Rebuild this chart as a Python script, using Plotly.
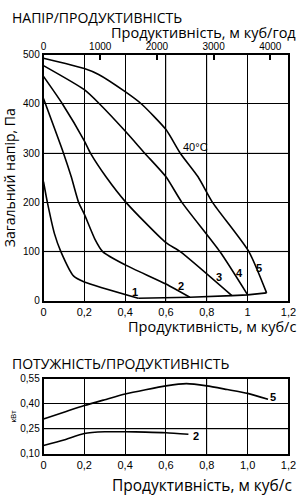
import plotly.graph_objects as go

W, H = 308, 500

# ---------------- data (pressure vs flow, m3/s -> Pa) ----------------
c1_q = [0, 0.019, 0.054, 0.085, 0.148, 0.2, 0.464]
c1_p = [242, 200, 136, 100, 50, 38, 5]
c2_q = [0, 0.098, 0.136, 0.172, 0.2, 0.251, 0.29, 0.4, 0.6, 0.717]
c2_p = [411, 300, 252, 200, 176, 126, 100, 73, 34, 7]
c3_q = [0, 0.093, 0.2, 0.23, 0.306, 0.404, 0.6, 0.67, 0.923]
c3_p = [456, 400, 325, 300, 252, 200, 118, 100, 10.5]
c4_q = [0, 0.2, 0.275, 0.4, 0.496, 0.6, 0.678, 0.864, 1.0]
c4_p = [478, 429, 400, 345, 300, 252, 200, 100, 12]
c5_q = [0, 0.2, 0.27, 0.4, 0.48, 0.6, 0.67, 0.757, 0.828, 1.006, 1.093]
c5_p = [493, 472, 460, 425, 400, 348, 300, 252, 200, 100, 16]
base_q = [0.464, 0.717, 0.923, 1.0, 1.093]
base_p = [5, 7, 10.5, 12, 16]

# power vs flow (m3/s -> kW)
p5_q = [0, 0.1, 0.2, 0.3, 0.4, 0.5, 0.6, 0.7, 0.8, 0.9, 1.0, 1.1]
p5_w = [0.31, 0.35, 0.39, 0.425, 0.459, 0.485, 0.508, 0.521, 0.508, 0.486, 0.463, 0.428]
p2_q = [0, 0.1, 0.2, 0.3, 0.4, 0.5, 0.6, 0.71]
p2_w = [0.151, 0.184, 0.223, 0.233, 0.233, 0.231, 0.227, 0.218]

# ticks
q_ticks = [0, 0.2, 0.4, 0.6, 0.8, 1.0, 1.2]
q_text_top = ["0", "0,2", "0,4", "0,6", "0,8", "1", "1,2"]
q_text_pow = ["0", "0,2", "0,4", "0,6", "0,8", "1,0", "1,2"]
p_ticks = [0, 100, 200, 300, 400, 500]
h_ticks = [0, 1000, 2000, 3000, 4000]
w_ticks = [0.10, 0.25, 0.40, 0.55]
w_text = ["0,10", "0,25", "0,40", "0,55"]

grey_q = [0.6, 0.8]
grey_p = [100, 300]
grey_qp = [0.8]
grey_w = [0.25]

# ---------------- layout geometry ----------------
def px_x(x):
    return x / W

def px_y(y):
    return 1 - y / H

xd = [px_x(42), px_x(296)]
top_d = [px_y(302), px_y(50)]
pow_d = [px_y(459), px_y(382)]

TICKF = dict(family="Liberation Sans, Arial, sans-serif", size=10, color="black")
BTICKF = dict(family="Liberation Sans, Arial, sans-serif", size=11, color="black")
TITLEF = dict(family="Open Sans, Noto Sans, sans-serif", size=14, color="black")
TITLEF2 = dict(family="Open Sans, Noto Sans, sans-serif", size=14.5, color="black")

fig = go.Figure()
for q, p in [(c1_q, c1_p), (c2_q, c2_p), (c3_q, c3_p), (c4_q, c4_p), (c5_q, c5_p)]:
    fig.add_trace(go.Scatter(x=q, y=p, mode="lines", line=dict(color="black", width=1.6, shape="spline", smoothing=0.6),
                             xaxis="x", yaxis="y", showlegend=False, hoverinfo="skip"))
fig.add_trace(go.Scatter(x=base_q, y=base_p, mode="lines", line=dict(color="black", width=1.6),
                         xaxis="x", yaxis="y", showlegend=False, hoverinfo="skip"))
# invisible trace to activate the top m3/h axis
fig.add_trace(go.Scatter(x=[0, 4320], y=[0, 0], mode="lines", line=dict(width=0), opacity=0,
                         xaxis="x3", yaxis="y", showlegend=False, hoverinfo="skip"))
for q, w in [(p5_q, p5_w), (p2_q, p2_w)]:
    fig.add_trace(go.Scatter(x=q, y=w, mode="lines", line=dict(color="black", width=1.6, shape="spline", smoothing=0.6),
                             xaxis="x2", yaxis="y2", showlegend=False, hoverinfo="skip"))

axis_common = dict(showline=True, linecolor="black", linewidth=1.5, mirror=True,
                   showgrid=True, gridcolor="black", gridwidth=1, zeroline=False, ticks="")

fig.update_layout(
    width=W, height=H, margin=dict(l=0, r=0, t=0, b=0),
    paper_bgcolor="white", plot_bgcolor="white",
    xaxis=dict(domain=xd, range=[0, 1.2], tickvals=q_ticks, ticktext=q_text_top, tickfont=BTICKF,
               anchor="y", ticklabelstandoff=0, **axis_common),
    yaxis=dict(domain=top_d, range=[0, 500], tickvals=p_ticks, tickfont=TICKF, anchor="x",
               title=dict(text="Загальний напір, Па", font=TITLEF, standoff=4), **axis_common),
    xaxis3=dict(overlaying="x", side="top", anchor="y", range=[0, 4320], tickvals=h_ticks,
                tickfont=TICKF, showgrid=False, zeroline=False, ticks="inside", ticklen=5,
                tickcolor="black", tickwidth=1.5, showline=False, ticklabelstandoff=2),
    xaxis2=dict(domain=xd, range=[0, 1.2], tickvals=q_ticks, ticktext=q_text_pow, tickfont=BTICKF,
                anchor="y2", ticklabelstandoff=0, **axis_common),
    yaxis2=dict(domain=pow_d, range=[0.10, 0.55], tickvals=w_ticks, ticktext=w_text, tickfont=TICKF,
                anchor="x2", title=dict(text="кВт", font=dict(family="Liberation Sans, Arial", size=8, color="black"), standoff=2),
                **axis_common),
)

shapes = []
for v in grey_q:
    shapes.append(dict(type="line", xref="x", yref="y domain", x0=v, x1=v, y0=0, y1=1,
                       line=dict(color="#b4b4b4", width=1.5), layer="below"))
for v in grey_p:
    shapes.append(dict(type="line", xref="x domain", yref="y", x0=0, x1=1, y0=v, y1=v,
                       line=dict(color="#b4b4b4", width=1.5), layer="below"))
for v in grey_qp:
    shapes.append(dict(type="line", xref="x2", yref="y2 domain", x0=v, x1=v, y0=0, y1=1,
                       line=dict(color="#b4b4b4", width=1.5), layer="below"))
for v in grey_w:
    shapes.append(dict(type="line", xref="x2 domain", yref="y2", x0=0, x1=1, y0=v, y1=v,
                       line=dict(color="#b4b4b4", width=1.5), layer="below"))
fig.update_layout(shapes=shapes)

NUMF = dict(family="Liberation Sans, Arial, sans-serif", size=11, color="black")
ann = [
    dict(text="НАПІР/ПРОДУКТИВНІСТЬ", xref="paper", yref="paper", x=px_x(7), y=px_y(12),
         xanchor="left", yanchor="middle", showarrow=False, font=TITLEF),
    dict(text="Продуктивність, м куб/год", xref="paper", yref="paper", x=px_x(306), y=px_y(27),
         xanchor="right", yanchor="middle", showarrow=False, font=TITLEF2),
    dict(text="Продуктивність, м куб/с", xref="paper", yref="paper", x=px_x(306), y=px_y(328),
         xanchor="right", yanchor="middle", showarrow=False, font=TITLEF2),
    dict(text="ПОТУЖНІСТЬ/ПРОДУКТИВНІСТЬ", xref="paper", yref="paper", x=px_x(7), y=px_y(366),
         xanchor="left", yanchor="middle", showarrow=False, font=TITLEF),
    dict(text="Продуктивність, м куб/с", xref="paper", yref="paper", x=px_x(302), y=px_y(491),
         xanchor="right", yanchor="middle", showarrow=False,
         font=dict(family="Open Sans, Noto Sans, sans-serif", size=15.5, color="black")),
    dict(text="40°C", xref="x", yref="y", x=0.745, y=313, showarrow=False, font=NUMF),
    dict(text="<b>1</b>", xref="x", yref="y", x=0.446, y=18, showarrow=False, font=NUMF),
    dict(text="<b>2</b>", xref="x", yref="y", x=0.673, y=31, showarrow=False, font=NUMF),
    dict(text="<b>3</b>", xref="x", yref="y", x=0.858, y=48, showarrow=False, font=NUMF),
    dict(text="<b>4</b>", xref="x", yref="y", x=0.962, y=56, showarrow=False, font=NUMF),
    dict(text="<b>5</b>", xref="x", yref="y", x=1.057, y=67, showarrow=False, font=NUMF),
    dict(text="<b>5</b>", xref="x2", yref="y2", x=1.125, y=0.44, showarrow=False, font=NUMF),
    dict(text="<b>2</b>", xref="x2", yref="y2", x=0.745, y=0.21, showarrow=False, font=NUMF),
]
fig.update_layout(annotations=ann)

fig.write_html("out.html")
